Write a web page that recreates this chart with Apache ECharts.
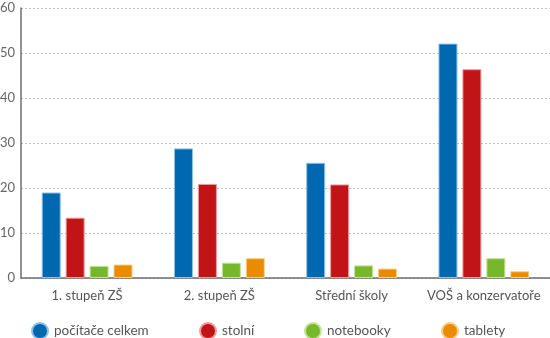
<!DOCTYPE html>
<html>
<head>
<meta charset="utf-8">
<script src="https://cdn.jsdelivr.net/npm/echarts@6/dist/echarts.min.js"></script>
<style>html,body{margin:0;padding:0;background:#fff}#c{width:550px;height:338px}</style>
</head>
<body>
<div id="c"></div>
<script>
var categories = ['1. stupeň ZŠ', '2. stupeň ZŠ', 'Střední školy', 'VOŠ a konzervatoře'];
var seriesNames = ['počítače celkem', 'stolní', 'notebooky', 'tablety'];
var pocitace = [19.0, 28.8, 25.6, 52.1];
var stolni = [13.4, 20.9, 20.8, 46.4];
var notebooky = [2.7, 3.4, 2.8, 4.4];
var tablety = [3.0, 4.4, 2.1, 1.5];
var yTicks = [0, 10, 20, 30, 40, 50, 60];

var colors = ['#0067b1', '#c01417', '#77b82a', '#eb8b00'];
var borders = ['#8fc0e6', '#f09a9a', '#c3e39a', '#f7cf8a'];
var values = [pocitace, stolni, notebooky, tablety];
var font = 'Lato';

var chart = echarts.init(document.getElementById('c'));
var series = seriesNames.map(function (n, i) {
  return {
    name: n, type: 'bar', data: values[i], barWidth: 19, barGap: '26%',
    itemStyle: { color: colors[i], borderColor: borders[i], borderWidth: 1 }
  };
});
var legendLefts = [31, 199, 304, 441];
var legends = seriesNames.map(function (n, i) {
  return {
    data: [{ name: n, icon: 'circle' }], left: legendLefts[i], top: 322, padding: 0,
    itemWidth: 16, itemHeight: 16, itemGap: 0,
    textStyle: { fontFamily: font, fontSize: 13.5, color: '#555', padding: [0, 0, 0, 1] },
    selectedMode: false
  };
});
chart.setOption({
  animation: false,
  color: colors,
  grid: { left: 21, right: 0, top: 8, bottom: 60, containLabel: false, outerBoundsMode: 'none' },
  legend: legends,
  xAxis: {
    type: 'category', data: categories,
    axisLine: { lineStyle: { color: '#6e6e6e', width: 1.5 } },
    axisTick: { show: false },
    axisLabel: { interval: 0, fontFamily: font, fontSize: 13, color: '#555', margin: 11 }
  },
  yAxis: {
    type: 'value', min: yTicks[0], max: yTicks[yTicks.length - 1], interval: 10,
    axisLine: { show: true, lineStyle: { color: '#6e6e6e', width: 1.5 } },
    axisTick: { show: false },
    axisLabel: { fontFamily: font, fontSize: 13, color: '#666', margin: 6 },
    splitLine: { lineStyle: { color: '#bdbdbd', type: [2, 2], width: 1 } }
  },
  series: series
});
</script>
</body>
</html>
